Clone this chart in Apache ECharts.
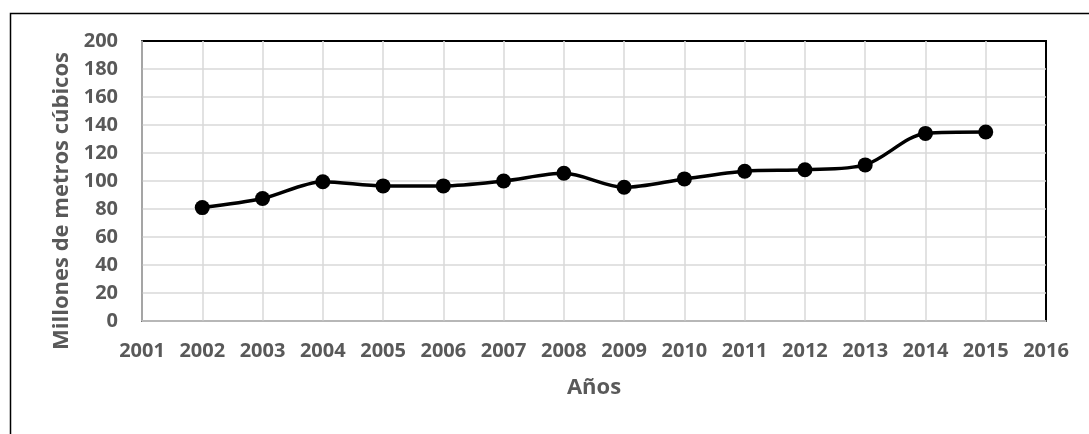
<!DOCTYPE html>
<html>
<head>
<meta charset="utf-8">
<script src="https://cdn.jsdelivr.net/npm/echarts@6/dist/echarts.min.js"></script>
<style>
  html, body { margin: 0; padding: 0; background: #fff; }
  #chart { width: 1089px; height: 434px; }
</style>
</head>
<body>
<div id="chart"></div>
<script>
// values
const years = [2002, 2003, 2004, 2005, 2006, 2007, 2008, 2009, 2010, 2011, 2012, 2013, 2014, 2015]
const volumes = [81, 87.5, 99.5, 96.5, 96.5, 100, 105.5, 95.5, 101.5, 107, 108, 111.5, 134, 135]
const yTicks = { min: 0, max: 200, step: 20 }
const xTicks = { min: 2001, max: 2016, step: 1 }

const labelColor = '#595959'
const font = '"Open Sans", "Noto Sans", sans-serif'

const myChart = echarts.init(document.getElementById('chart'))
const option = {
  animation: false,
  textStyle: { fontFamily: font },
  graphic: [
    {
      type: 'rect',
      left: 8,
      top: 11,
      shape: { width: 1200, height: 600 },
      style: { fill: 'none', stroke: '#000', lineWidth: 1.5 },
      silent: true
    }
  ],
  grid: {
    left: 142,
    top: 41,
    right: 43,
    bottom: 113,
    show: true,
    borderColor: '#000',
    borderWidth: 2
  },
  xAxis: {
    type: 'value',
    min: xTicks.min,
    max: xTicks.max,
    interval: xTicks.step,
    name: 'Años',
    nameLocation: 'middle',
    nameGap: 56,
    nameTextStyle: { color: labelColor, fontSize: 22, fontWeight: 'bold', fontFamily: font },
    axisLine: { lineStyle: { color: '#bfbfbf', width: 1.5 } },
    axisTick: { show: false },
    axisLabel: {
      color: labelColor,
      fontSize: 20,
      fontWeight: 'bold',
      margin: 20,
      formatter: v => String(v)
    },
    splitLine: { show: true, showMaxLine: false, lineStyle: { color: '#d9d9d9', width: 1.5 } }
  },
  yAxis: {
    type: 'value',
    min: yTicks.min,
    max: yTicks.max,
    interval: yTicks.step,
    name: 'Millones de metros cúbicos',
    nameLocation: 'middle',
    nameGap: 68,
    nameRotate: 90,
    nameTextStyle: {
      color: labelColor,
      fontSize: 22,
      fontWeight: 'bold',
      fontFamily: font,
      padding: [0, 40, 0, 0]
    },
    axisLine: { show: true, lineStyle: { color: '#a6a6a6', width: 1.5 } },
    axisTick: { show: false },
    axisLabel: {
      color: labelColor,
      fontSize: 20,
      fontWeight: 'bold',
      margin: 24
    },
    splitLine: { show: true, showMaxLine: false, lineStyle: { color: '#d9d9d9', width: 1.5 } }
  },
  series: [
    {
      type: 'line',
      data: years.map((y, i) => [y, volumes[i]]),
      smooth: 0.3,
      symbol: 'circle',
      symbolSize: 15,
      lineStyle: { color: '#000', width: 3.5 },
      itemStyle: { color: '#000' }
    }
  ]
}
myChart.setOption(option)
</script>
</body>
</html>
